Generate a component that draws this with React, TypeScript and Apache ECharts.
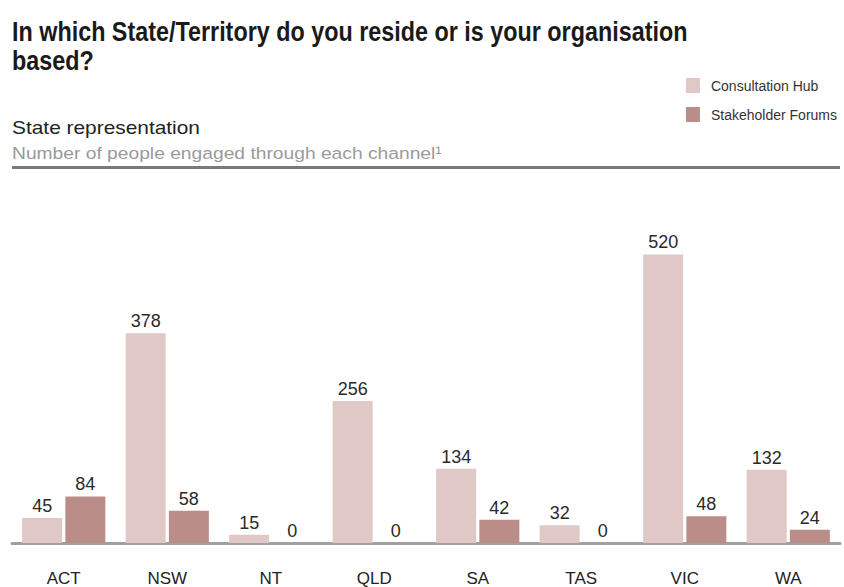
import React, { useEffect, useRef } from "react";
import * as echarts from "echarts";

const categories = ["ACT", "NSW", "NT", "QLD", "SA", "TAS", "VIC", "WA"];
const consultationHub = [45, 378, 15, 256, 134, 32, 520, 132];
const stakeholderForums = [84, 58, 0, 0, 42, 0, 48, 24];
const seriesNames = ["Consultation Hub", "Stakeholder Forums"];

const titleLine1 = "In which State/Territory do you reside or is your organisation";
const titleLine2 = "based?";
const subTitle = "State representation";
const subNote = "Number of people engaged through each channel\u00B9";

const SANS = "'Liberation Sans', Arial, sans-serif";

function measure(text: string, font: string): number {
  const c = document.createElement("canvas");
  const ctx = c.getContext("2d");
  if (!ctx) return 0;
  ctx.font = font;
  return ctx.measureText(text).width;
}

function fitText(text: string, font: string, x: number, y: number, targetWidth: number, fill: string, refText?: string) {
  const w = measure(refText ?? text, font);
  const scaleX = w > 0 ? targetWidth / w : 1;
  return {
    type: "text",
    x,
    y,
    scaleX,
    scaleY: 1,
    originX: 0,
    originY: 0,
    style: { text, font, fill, verticalAlign: "top", align: "left" },
  };
}

export default function App() {
  const ref = useRef<HTMLDivElement>(null);
  useEffect(() => {
    if (!ref.current) return;
    const chart = echarts.init(ref.current, null, { renderer: "svg" });
    const titleFont = `bold 27px ${SANS}`;
    const labelStyle = {
      show: true,
      position: "top" as const,
      distance: 3,
      fontFamily: SANS,
      fontSize: 18,
      color: "#2a2a2a",
    };
    chart.setOption({
      animation: false,
      backgroundColor: "#ffffff",
      graphic: [
        fitText(titleLine1, titleFont, 12, 18, 676, "#1a1a1a"),
        fitText(titleLine2, titleFont, 12, 47, 676, "#1a1a1a", titleLine1),
        fitText(subTitle, `19px ${SANS}`, 12, 118, 188, "#222222"),
        fitText(subNote, `17px ${SANS}`, 12, 145, 430, "#9a9a9a"),
        {
          type: "rect",
          x: 12,
          y: 166,
          shape: { width: 828, height: 3 },
          style: { fill: "#7a7a7a" },
        },
      ],
      legend: {
        orient: "vertical",
        right: 2,
        top: 73,
        itemWidth: 14,
        itemHeight: 15,
        itemGap: 14,
        icon: "rect",
        data: seriesNames,
        textStyle: { fontFamily: SANS, fontSize: 14, color: "#333333", padding: [0, 0, 0, 6] },
      },
      grid: { left: 12, right: 4, top: 210, bottom: 43 },
      xAxis: {
        type: "category",
        data: categories,
        axisLine: { lineStyle: { color: "#a0a0a0", width: 3 } },
        axisTick: { show: false },
        axisLabel: { margin: 27, fontFamily: SANS, fontSize: 17, color: "#222222" },
      },
      yAxis: {
        type: "value",
        min: 0,
        max: 600,
        show: false,
        splitLine: { show: false },
      },
      series: [
        {
          name: seriesNames[0],
          type: "bar",
          data: consultationHub,
          barWidth: 40,
          barGap: "8%",
          itemStyle: { color: "#e0c8c7" },
          label: labelStyle,
        },
        {
          name: seriesNames[1],
          type: "bar",
          data: stakeholderForums,
          barWidth: 40,
          itemStyle: { color: "#bb8d88" },
          label: labelStyle,
        },
      ],
    });
    return () => chart.dispose();
  }, []);
  return <div ref={ref} style={{ width: 844, height: 587, position: "absolute", left: 0, top: 0 }} />;
}
